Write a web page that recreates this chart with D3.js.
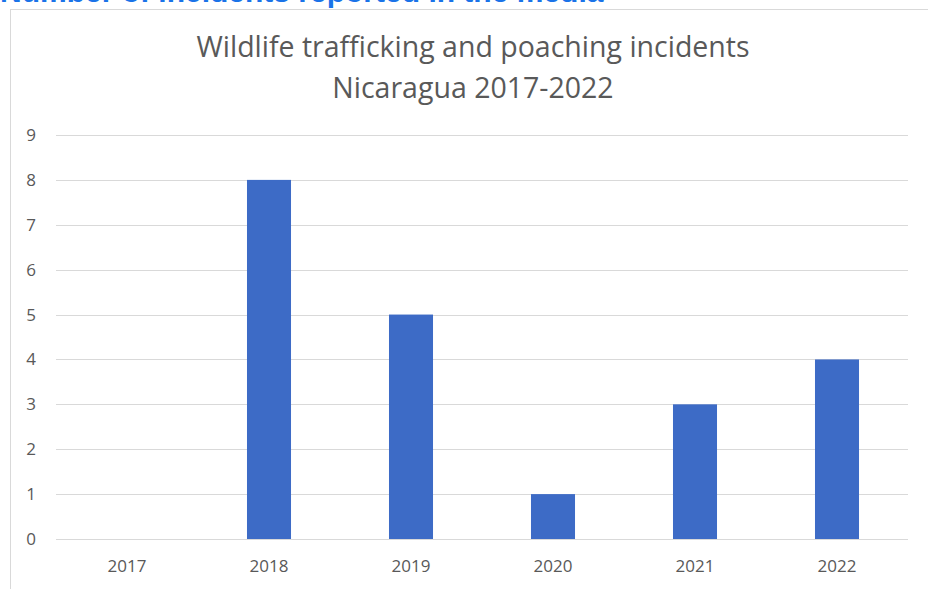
<!DOCTYPE html>
<html><head><meta charset="utf-8">
<script src="https://cdn.jsdelivr.net/npm/d3@7"></script>
<style>body{margin:0;background:#fff;overflow:hidden}</style>
</head><body>
<svg id="c" width="928" height="589"></svg>
<script>
const years = ["2017","2018","2019","2020","2021","2022"];
const incidents = [0, 8, 5, 1, 3, 4];
const yTicks = [0,1,2,3,4,5,6,7,8,9];
const titleLines = ["Wildlife trafficking and poaching incidents", "Nicaragua 2017-2022"];
const headerText = "Number of incidents reported in the media";

const svg = d3.select("#c");
const font = "'Open Sans', 'Liberation Sans', sans-serif";

// header (clipped at top)
svg.append("text").attr("x", 0).attr("y", 2)
  .attr("font-family", "'Liberation Sans', Arial, sans-serif").attr("font-weight", "bold")
  .attr("font-size", 30).attr("fill", "#1a73e8").text(headerText);

// chart frame
svg.append("rect").attr("x", 10.5).attr("y", 9.5).attr("width", 930).attr("height", 600)
  .attr("fill", "#fff").attr("stroke", "#d9d9d9");

const x = d3.scaleBand().domain(years).range([56, 908]).paddingInner(0.69).paddingOuter(0.345);
const y = d3.scaleLinear().domain([0, 9]).range([539, 135]);

// gridlines
svg.append("g").selectAll("line").data(yTicks).join("line")
  .attr("x1", 56).attr("x2", 908)
  .attr("y1", d => Math.round(y(d)) + 0.5).attr("y2", d => Math.round(y(d)) + 0.5)
  .attr("stroke", "#d9d9d9").attr("stroke-width", 1);

// y axis labels
const yAxis = d3.axisLeft(y).tickValues(yTicks).tickSize(0).tickPadding(0);
const gy = svg.append("g").attr("transform", "translate(36,0)").call(yAxis);
gy.select(".domain").remove();
gy.selectAll("text").attr("font-family", font).attr("font-size", 17).attr("fill", "#595959");

// bars
svg.append("g").selectAll("rect").data(years.map((yr, i) => ({yr, v: incidents[i]}))).join("rect")
  .attr("x", d => x(d.yr)).attr("width", x.bandwidth())
  .attr("y", d => y(d.v)).attr("height", d => y(0) - y(d.v))
  .attr("fill", "#3d6bc6");

// x axis labels
const xAxis = d3.axisBottom(x).tickSize(0).tickPadding(0);
const gx = svg.append("g").attr("transform", "translate(0,560)").call(xAxis);
gx.select(".domain").remove();
gx.selectAll("text").attr("font-family", font).attr("font-size", 17).attr("fill", "#595959");

// title
svg.append("g").selectAll("text").data(titleLines).join("text")
  .attr("x", 473).attr("y", (d, i) => 57 + i * 41)
  .attr("text-anchor", "middle").attr("font-family", font).attr("font-size", 28.5)
  .attr("fill", "#595959").text(d => d);
</script>
</body></html>
